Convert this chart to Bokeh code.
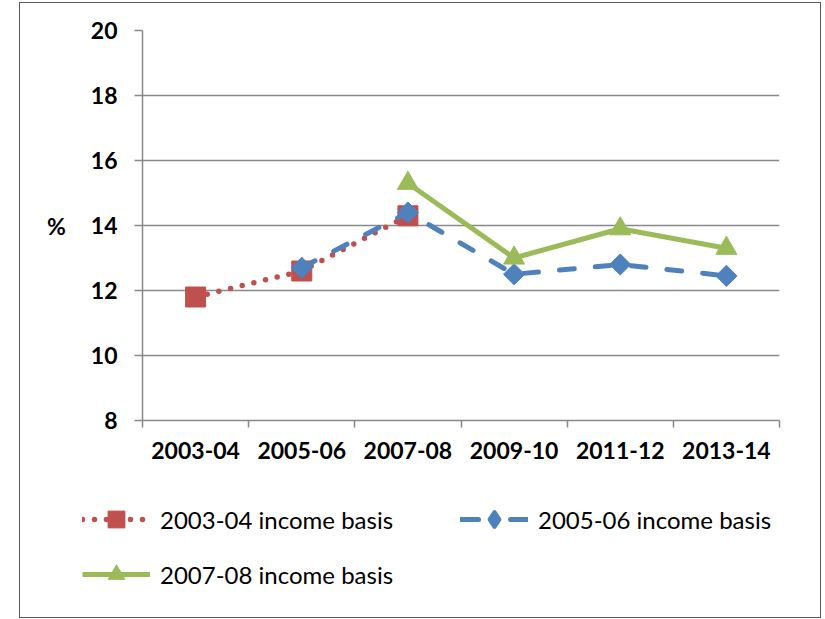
import numpy as np
from bokeh.plotting import figure
from bokeh.layouts import column
from bokeh.models import FixedTicker, Legend, LegendItem, Range1d
from bokeh.embed import file_html
from bokeh.resources import INLINE

periods = ["2003-04", "2005-06", "2007-08", "2009-10", "2011-12", "2013-14"]
basis_2003 = [11.8, 12.6, 14.3, np.nan, np.nan, np.nan]
basis_2005 = [np.nan, 12.7, 14.4, 12.5, 12.8, 12.45]
basis_2007 = [np.nan, np.nan, 15.3, 13.0, 13.9, 13.3]
series_labels = ["2003-04 income basis", "2005-06 income basis", "2007-08 income basis"]
y_ticks = [8, 10, 12, 14, 16, 18, 20]

RED = "#C0504D"
BLUE = "#4F81BD"
GREEN = "#9BBB59"
GRID = "#898989"
FONT = "Lato"

xs = [i + 0.5 for i in range(len(periods))]
all_series = [basis_2003, basis_2005, basis_2007]

p = figure(width=800, height=480, output_backend="svg", toolbar_location=None,
           x_range=Range1d(0, len(periods)), y_range=Range1d(8, 20),
           min_border_left=122, min_border_right=41, min_border_top=27, min_border_bottom=63,
           frame_align=False)
p.outline_line_color = None
p.background_fill_color = "white"
p.border_fill_color = "white"

# x axis
xa = p.xaxis[0]
xa.ticker = FixedTicker(ticks=xs, minor_ticks=list(range(len(periods) + 1)))
xa.major_label_overrides = {x: lab for x, lab in zip(xs, periods)}
xa.major_tick_line_color = None
xa.major_tick_out = 0
xa.major_tick_in = 0
xa.minor_tick_out = 7
xa.minor_tick_in = 0
xa.minor_tick_line_color = GRID
xa.minor_tick_line_width = 1.5
xa.axis_line_color = GRID
xa.axis_line_width = 1.5
xa.major_label_text_font = FONT
xa.major_label_text_font_style = "bold"
xa.major_label_text_font_size = "23px"
xa.major_label_text_color = "black"
xa.major_label_standoff = 14

# y axis
ya = p.yaxis[0]
ya.ticker = FixedTicker(ticks=y_ticks)
ya.major_tick_out = 8
ya.major_tick_in = 0
ya.minor_tick_line_color = None
ya.major_tick_line_color = GRID
ya.major_tick_line_width = 1.5
ya.axis_line_color = GRID
ya.axis_line_width = 1.5
ya.major_label_text_font = FONT
ya.major_label_text_font_style = "bold"
ya.major_label_text_font_size = "23px"
ya.major_label_text_color = "black"
ya.major_label_standoff = 17
ya.axis_label = "%"
ya.axis_label_orientation = "horizontal"
ya.axis_label_text_font = FONT
ya.axis_label_text_font_style = "bold"
ya.axis_label_text_font_size = "23px"
ya.axis_label_text_color = "black"
ya.axis_label_standoff = 22

p.xgrid.visible = False
p.ygrid.ticker = FixedTicker(ticks=y_ticks)
p.ygrid.grid_line_color = GRID
p.ygrid.grid_line_width = 1.5

# series styles
line_styles = [dict(line_color=RED, line_width=5.5, line_dash="0 12", line_cap="round"),
               dict(line_color=BLUE, line_width=5, line_dash="15 21", line_cap="round"),
               dict(line_color=GREEN, line_width=5)]
marker_styles = [dict(marker="square", size=20, fill_color=RED, line_color=RED),
                 dict(marker="square", angle=np.pi / 4, size=15, fill_color=BLUE, line_color=BLUE),
                 dict(marker="triangle", size=21, fill_color=GREEN, line_color=GREEN)]

for vals, ls, ms in zip(all_series, line_styles, marker_styles):
    p.line(xs, vals, **ls)
    p.scatter(xs, vals, **ms)

# legend strip (its own plot; series drawn there fall outside its 0..1 ranges,
# so only the legend swatches show)
lf = figure(width=800, height=134, output_backend="svg", toolbar_location=None,
            x_range=Range1d(0, 1), y_range=Range1d(0, 1),
            x_axis_location=None, y_axis_location=None,
            min_border_left=0, min_border_right=0, min_border_top=0, min_border_bottom=0,
            frame_align=False)
lf.outline_line_color = None
lf.xgrid.visible = False
lf.ygrid.visible = False
lf.border_fill_color = "white"

leg_line_styles = [dict(line_styles[0]),
                   dict(line_styles[1], line_dash="18 32"),
                   dict(line_styles[2])]
leg_marker_styles = [dict(marker_styles[0]),
                     dict(marker="diamond", size=15, fill_color=BLUE, line_color=BLUE, line_width=3),
                     dict(marker_styles[2])]

items = []
for lab, vals, ls, ms in zip(series_labels, all_series, leg_line_styles, leg_marker_styles):
    lr = lf.line(xs, vals, **ls)
    sr = lf.scatter(xs, vals, **ms)
    items.append(LegendItem(label=lab, renderers=[lr, sr]))

def mk_legend(its, loc):
    return Legend(items=its, location=loc, orientation="vertical",
                  glyph_width=68, glyph_height=42, label_height=42,
                  label_standoff=10, spacing=13, padding=0, margin=0,
                  border_line_color=None, background_fill_alpha=0,
                  label_text_font=FONT, label_text_font_size="24px", label_text_color="black")

lf.add_layout(mk_legend([items[0], items[2]], (62, 22)), "center")
lf.add_layout(mk_legend([items[1]], (440, 77)), "center")

layout = column(p, lf, spacing=0, margin=(2, 0, 0, 19),
                styles={"border": "1px solid #5a5a5a"})

open("out.html", "w").write(file_html(layout, INLINE))
